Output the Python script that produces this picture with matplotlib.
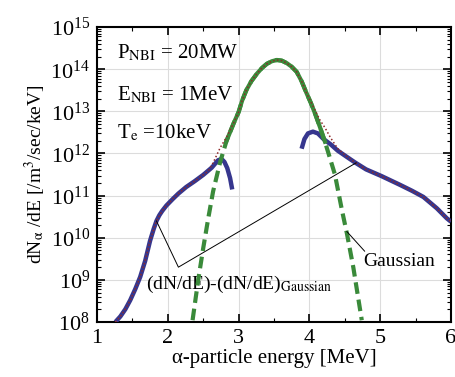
import numpy as np
import matplotlib
matplotlib.use('Agg')
import matplotlib.pyplot as plt
from matplotlib.ticker import LogLocator, MultipleLocator, NullFormatter

plt.rcParams['font.family'] = ['Liberation Serif', 'DejaVu Serif']
plt.rcParams['mathtext.fontset'] = 'stix'

# (dN/dE) - (dN/dE)_Gaussian, low-energy branch
e_blue_lo = [1.26, 1.33, 1.40, 1.47, 1.54, 1.61, 1.68, 1.75, 1.80, 1.84, 1.88, 1.92, 1.98, 2.07,
             2.15, 2.26, 2.38, 2.50, 2.62, 2.71, 2.76, 2.80, 2.84, 2.88, 2.91]
n_blue_lo = [1.0e8, 1.35e8, 2.0e8, 3.3e8, 6.0e8, 1.17e9, 2.8e9, 8.5e9, 1.6e10, 2.5e10, 3.4e10, 4.3e10,
             5.8e10, 8.3e10, 1.12e11, 1.6e11, 2.2e11, 3.1e11, 4.6e11, 6.9e11, 7.4e11, 6.3e11, 4.5e11,
             2.6e11, 1.4e11]

# high-energy branch
e_blue_hi = [3.89, 3.93, 3.98, 4.05, 4.12, 4.20, 4.30, 4.40, 4.52, 4.64, 4.80, 5.02,
             5.28, 5.45, 5.61, 5.80, 5.94, 6.00]
n_blue_hi = [1.3e12, 2.2e12, 3.0e12, 3.3e12, 3.0e12, 2.2e12, 1.65e12, 1.17e12, 8.5e11, 6.2e11, 4.2e11, 2.9e11,
             1.8e11, 1.3e11, 9.3e10, 5.0e10, 2.9e10, 2.4e10]

# Gaussian part
e_gauss = [2.35, 2.43, 2.50, 2.57, 2.64, 2.74, 2.83, 2.93, 3.00, 3.05, 3.11, 3.18, 3.26, 3.33,
           3.40, 3.47, 3.54, 3.61, 3.68, 3.75, 3.82, 3.89, 3.96, 4.02, 4.08, 4.15, 4.22,
           4.36, 4.46, 4.53, 4.62, 4.74]
n_gauss = [1.1e8, 1.0e9, 5.6e9, 2.8e10, 1.26e11, 6.3e11, 2.0e12, 5.2e12, 9.6e12, 1.8e13, 3.2e13, 5.2e13,
           7.9e13, 1.07e14, 1.35e14, 1.55e14, 1.66e14, 1.6e14, 1.4e14, 1.15e14, 8.7e13, 5.2e13, 2.7e13,
           1.6e13, 8.9e12, 4.2e12, 1.9e12, 3.2e11, 4.5e10, 1.26e10, 2.0e9, 1.1e8]

# total dN/dE (dotted)
e_total = [1.26, 1.33, 1.40, 1.47, 1.54, 1.61, 1.68, 1.75, 1.84, 1.92, 1.98, 2.07, 2.15, 2.26,
           2.38, 2.50, 2.57, 2.64, 2.74, 2.83, 2.93, 3.00, 3.05, 3.11, 3.18, 3.26, 3.33, 3.40, 3.47,
           3.54, 3.61, 3.68, 3.75, 3.82, 3.89, 3.96, 4.02, 4.08, 4.15, 4.22, 4.30, 4.40, 4.52, 4.64,
           4.80, 5.02, 5.28, 5.45, 5.61, 5.80, 5.94, 6.00]
n_total = [1.0e8, 1.35e8, 2.0e8, 3.3e8, 6.0e8, 1.17e9, 2.8e9, 8.5e9, 2.5e10, 4.3e10, 5.8e10, 8.3e10,
           1.12e11, 1.6e11, 2.2e11, 3.1e11, 3.8e11, 6.0e11, 1.37e12, 2.45e12, 5.3e12, 9.6e12, 1.8e13,
           3.2e13, 5.2e13, 7.9e13, 1.07e14, 1.35e14, 1.55e14, 1.66e14, 1.6e14, 1.4e14, 1.15e14, 8.7e13,
           5.2e13, 2.7e13, 1.7e13, 1.07e13, 6.2e12, 4.1e12, 2.35e12, 1.31e12, 8.7e11, 6.2e11, 4.2e11,
           2.9e11, 1.8e11, 1.3e11, 9.3e10, 5.0e10, 2.9e10, 2.4e10]

fig = plt.figure(figsize=(4.56, 3.77), dpi=100)
ax = fig.add_axes([0.2127, 0.146, 0.7763, 0.782])

ax.plot(e_blue_lo, n_blue_lo, color='#36368e', lw=3.2, solid_capstyle='butt', zorder=3)
ax.plot(e_blue_hi, n_blue_hi, color='#36368e', lw=3.2, solid_capstyle='butt', zorder=3)
ax.plot(e_gauss, n_gauss, color='#3a8a3a', lw=3.0, ls=(0, (2.8, 1.4)), zorder=4)
# upper part of the Gaussian looks solid in the original
eg = np.array(e_gauss)
ng = np.array(n_gauss)
top = (eg >= 2.83) & (eg <= 4.22)
ax.plot(eg[top], ng[top], color='#3a8a3a', lw=3.0, solid_joinstyle='round', zorder=4)
ax.plot(e_total, n_total, color='#8e2a2a', lw=1.1, ls=(0, (1, 1.5)), zorder=5)

# annotation lines
ax.plot([1.84, 2.15, 4.66], [2.5e10, 2.0e9, 6.0e11], color='black', lw=0.7, zorder=6)
ax.plot([4.53, 4.78], [1.4e10, 4.8e9], color='black', lw=0.7, zorder=6)
ax.text(1.69, 7.9e8, r'(dN/dE)-(dN/dE)$_{\mathrm{Gaussian}}$', fontsize=14, va='center', ha='left')
ax.text(5.27, 2.8e9, 'Gaussian', fontsize=14, va='center', ha='center')

ax.text(0.056, 0.895, r'P$_{\mathrm{NBI}}$ = 20MW', transform=ax.transAxes, fontsize=15, va='baseline')
ax.text(0.056, 0.753, r'E$_{\mathrm{NBI}}$ = 1MeV', transform=ax.transAxes, fontsize=15, va='baseline')
ax.text(0.056, 0.623, r'T$_{\mathrm{e}}$ =10keV', transform=ax.transAxes, fontsize=15, va='baseline')

ax.set_yscale('log')
ax.set_xlim(1, 6)
ax.set_ylim(1e8, 1e15)
ax.xaxis.set_major_locator(MultipleLocator(1))
ax.xaxis.set_minor_locator(MultipleLocator(0.5))
ax.yaxis.set_major_locator(LogLocator(base=10, numticks=20))
ax.yaxis.set_minor_locator(LogLocator(base=10, subs=np.arange(2, 10), numticks=20))
ax.yaxis.set_minor_formatter(NullFormatter())

ax.grid(True, which='major', color='#dcdcdc', lw=0.8, zorder=0)
ax.set_axisbelow(True)
ax.tick_params(which='both', direction='in', top=True, right=True, labelsize=16)
ax.tick_params(which='major', length=6, width=1.2, pad=5)
ax.tick_params(which='minor', length=3, width=0.8)
for s in ax.spines.values():
    s.set_linewidth(1.5)

ax.set_xlabel('α-particle energy [MeV]', fontsize=15, labelpad=1)
ax.set_ylabel(r'dN$_{\mathrm{α}}$ /dE [/m$^3$/sec/keV]', fontsize=14, labelpad=2)

fig.savefig('out.png', dpi=100)
